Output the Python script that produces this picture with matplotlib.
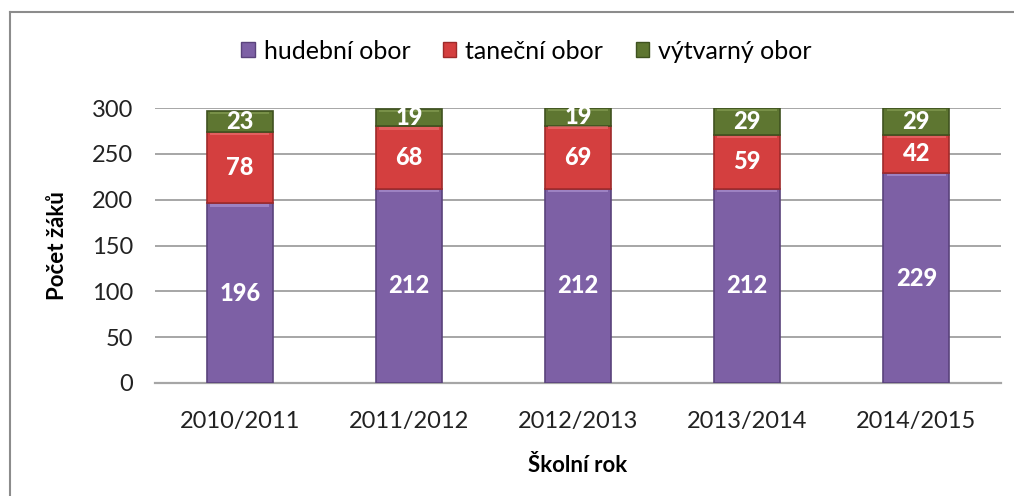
import matplotlib.pyplot as plt
import numpy as np
from matplotlib.lines import Line2D
from matplotlib.patches import Patch

plt.rcParams['font.family'] = ['Lato', 'DejaVu Sans']

# ---- Data ----
years = ["2010/2011", "2011/2012", "2012/2013", "2013/2014", "2014/2015"]
hudebni = [196, 212, 212, 212, 229]
tanecni = [78, 68, 69, 59, 42]
vytvarny = [23, 19, 19, 29, 29]
series_names = ["hudební obor", "taneční obor", "výtvarný obor"]

PURPLE = "#7D60A5"
RED = "#D43F3F"
GREEN = "#5E7631"
EDGES = ["#5A437C", "#9E2A2A", "#3F5220"]
TOPS = ["#B89FDB", "#F07A7A", "#8EA75C"]

fig = plt.figure(figsize=(10.14, 4.96), dpi=100)
ax = fig.add_axes([0.153, 0.228, 0.834, 0.554])

x = np.arange(len(years))
w = 0.39
bottoms = np.zeros(len(years))
for vals, col, edge, top, name in zip([hudebni, tanecni, vytvarny],
                                      [PURPLE, RED, GREEN], EDGES, TOPS, series_names):
    vals = np.array(vals, dtype=float)
    ax.bar(x, vals, w, bottom=bottoms, color=col, edgecolor=edge, linewidth=1.2, zorder=3)
    # light bevel strip at the top of each segment
    ax.bar(x, np.full(len(x), 2.5), w * 0.9, bottom=bottoms + vals - 3.5,
           color=top, alpha=0.55, linewidth=0, zorder=4)
    for xi, b, v in zip(x, bottoms, vals):
        ax.text(xi, b + v / 2, f"{int(v)}", ha="center", va="center", color="white",
                fontsize=17, fontweight="black", zorder=5)
    bottoms += vals

ax.set_xlim(-0.5, len(years) - 0.5)
ax.set_ylim(0, 300)
ax.set_yticks(np.arange(0, 301, 50))
ax.set_xticks(x)
ax.set_xticklabels(years)
ax.tick_params(axis="both", length=0, labelsize=17, colors="#222222")
ax.tick_params(axis="x", pad=20)
ax.tick_params(axis="y", pad=16)
ax.yaxis.grid(True, color="#A6A6A6", linewidth=1.4, zorder=0)
ax.set_axisbelow(True)
for s in ["top", "right"]:
    ax.spines[s].set_visible(False)
ax.spines["left"].set_visible(False)
ax.spines["bottom"].set_color("#A6A6A6")
ax.spines["bottom"].set_linewidth(1.6)

ax.set_ylabel("Počet žáků", fontsize=16, fontweight="bold", labelpad=17)
ax.set_xlabel("Školní rok", fontsize=16, fontweight="bold", labelpad=17)

handles = [Patch(facecolor=c, edgecolor=e) for c, e in zip([PURPLE, RED, GREEN], EDGES)]
fig.legend(handles, series_names, loc="center", bbox_to_anchor=(0.519, 0.897), ncol=3,
           frameon=False, fontsize=18, handlelength=0.55, handleheight=0.55,
           handletextpad=0.35, columnspacing=1.3)

# outer chart frame (only top and left edges are visible)
fig.add_artist(Line2D([10 / 1014, 1.0], [1 - 12 / 496, 1 - 12 / 496],
                      transform=fig.transFigure, color="#8C8C8C", linewidth=1.5))
fig.add_artist(Line2D([10 / 1014, 10 / 1014], [0, 1 - 12 / 496],
                      transform=fig.transFigure, color="#8C8C8C", linewidth=1.5))

fig.savefig("out.png", dpi=100, facecolor="white")
